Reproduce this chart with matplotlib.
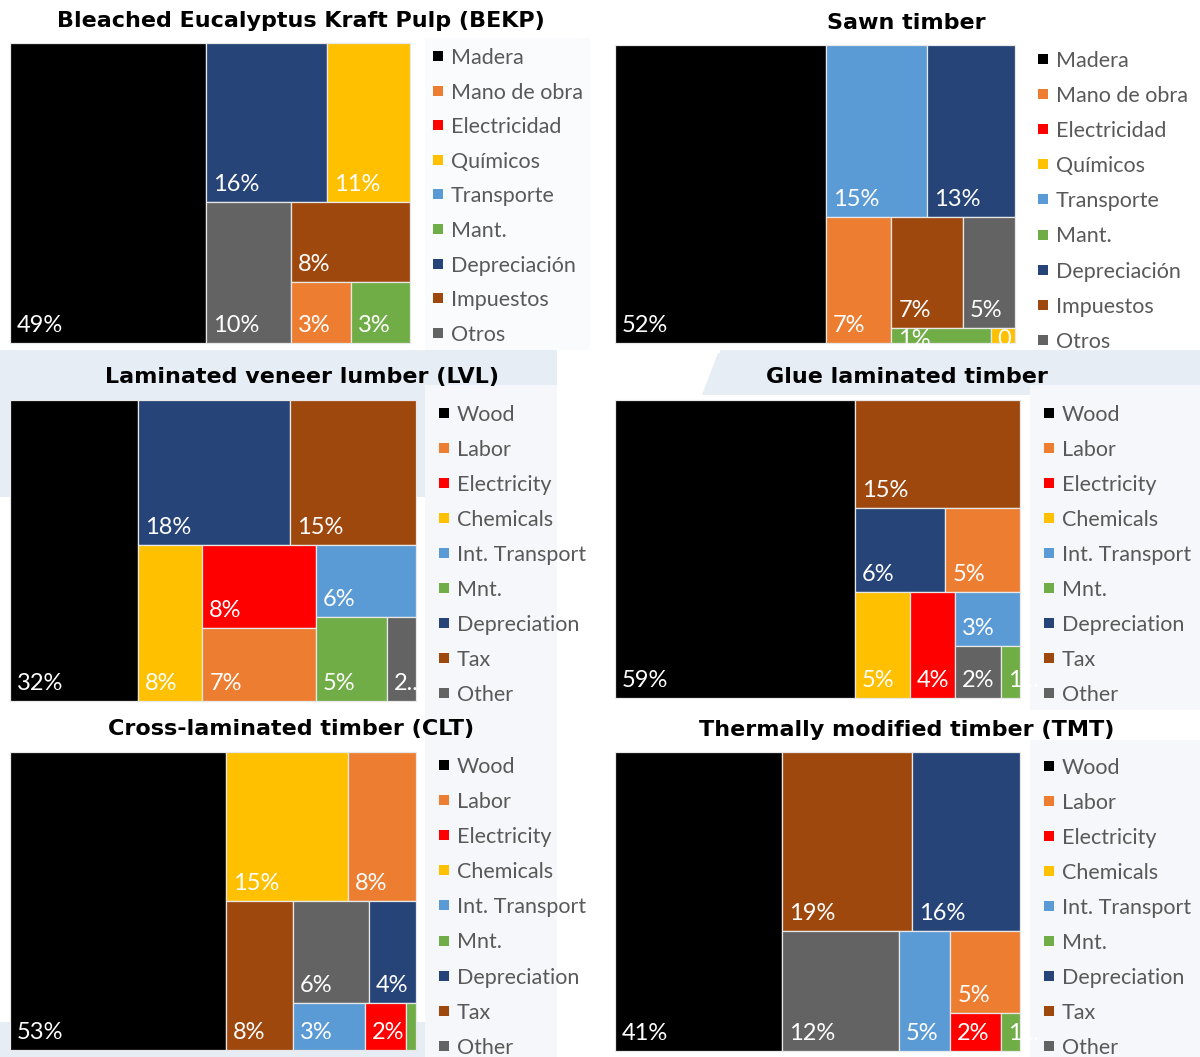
import matplotlib
matplotlib.use("Agg")
import matplotlib.pyplot as plt
from matplotlib.patches import Rectangle, Polygon

plt.rcParams['font.family'] = ['Lato', 'DejaVu Sans']

FIG_W, FIG_H = 1200, 1057

# cost categories, in legend order
cats_es = ["Madera", "Mano de obra", "Electricidad", "Químicos", "Transporte",
           "Mant.", "Depreciación", "Impuestos", "Otros"]
cats_en = ["Wood", "Labor", "Electricity", "Chemicals", "Int. Transport",
           "Mnt.", "Depreciation", "Tax", "Other"]
colors = ["#000000", "#ED7D31", "#FF0000", "#FFC000", "#5B9BD5",
          "#70AD47", "#264478", "#9E480E", "#636363"]

# cost shares (%) for each product, same order as the categories
bekp = [49, 3, 0, 11, 0, 3, 16, 8, 10]
sawn = [52.4, 6.9, 0, 0.31, 14.6, 1.26, 12.6, 6.6, 4.8]
lvl = [31.6, 6.8, 7.7, 8.2, 5.9, 4.9, 18.0, 15.0, 2.0]
glulam = [59.3, 5.2, 4.0, 4.8, 2.9, 0.8, 6.3, 14.8, 2.0]
clt = [53.2, 8.4, 1.6, 14.9, 2.8, 0.4, 4.0, 8.2, 6.4]
tmt = [41.2, 4.7, 1.6, 0, 5.1, 0.6, 16.0, 19.4, 11.6]

titles = ["Bleached Eucalyptus Kraft Pulp (BEKP)", "Sawn timber",
          "Laminated veneer lumber (LVL)", "Glue laminated timber",
          "Cross-laminated timber (CLT)", "Thermally modified timber (TMT)"]


def squarify(sizes, x, y, w, h, target=0.8):
    """Strip treemap: every strip keeps taking items while the worst
    deviation from the target width/height ratio does not grow."""
    rects = []
    i = 0
    while i < len(sizes):
        rest = sizes[i:]
        total = sum(rest)
        vertical = w >= h
        long_side, short_side = (w, h) if vertical else (h, w)

        def worst(k):
            s = sum(rest[:k])
            t = long_side * s / total
            out = 0
            for v in rest[:k]:
                l = short_side * v / s
                r = t / l if vertical else l / t
                out = max(out, r / target, target / r)
            return out

        k = 1
        while k < len(rest) and worst(k + 1) <= worst(k):
            k += 1
        s = sum(rest[:k])
        t = long_side * s / total
        pos = 0
        for v in rest[:k]:
            l = short_side * v / s
            if vertical:
                rects.append((x, y + pos, t, l))
            else:
                rects.append((x + pos, y, l, t))
            pos += l
        if vertical:
            x += t
            w -= t
        else:
            y += t
            h -= t
        i += k
    return rects


# title, values, names, treemap box (px), legend x / first y / step, title centre
panels = [
    (titles[0], bekp, cats_es, (10, 43, 400, 300), 438, 56, 34.6, (301, 21)),
    (titles[1], sawn, cats_es, (615, 45, 400, 298), 1043, 59, 35.1, (906, 23)),
    (titles[2], lvl, cats_en, (10, 400, 406, 301), 444, 413, 35.0, (302, 377)),
    (titles[3], glulam, cats_en, (615, 400, 405, 298), 1049, 413, 35.0, (907, 377)),
    (titles[4], clt, cats_en, (10, 752, 406, 298), 444, 765, 35.1, (291, 729)),
    (titles[5], tmt, cats_en, (615, 752, 405, 299), 1049, 766, 35.0, (907, 730)),
]

fig = plt.figure(figsize=(FIG_W / 100, FIG_H / 100), dpi=100)
fig.patch.set_facecolor("white")

# full-figure layer in pixel units for the backdrop, titles and legends
bg = fig.add_axes([0, 0, 1, 1], zorder=0)
bg.set_xlim(0, FIG_W)
bg.set_ylim(FIG_H, 0)
bg.axis("off")

band = "#e7edf4"
box = "#f5f7fa"
bg.add_patch(Polygon([(0, 350), (557, 350), (557, 497), (0, 497)], color=band, lw=0))
bg.add_patch(Polygon([(718, 353), (1200, 353), (1200, 395), (702, 395)], color=band, lw=0))
bg.add_patch(Polygon([(0, 1022), (557, 1022), (557, 1057), (0, 1057)], color=band, lw=0))
bg.add_patch(Polygon([(720, 350), (1200, 350), (1200, 360), (720, 360)], color=band, lw=0))
bg.add_patch(Rectangle((425, 38), 165, 312, color="#fafbfc", lw=0))
bg.add_patch(Rectangle((425, 385), 132, 330, color=box, lw=0))
bg.add_patch(Rectangle((1030, 385), 170, 325, color=box, lw=0))
bg.add_patch(Rectangle((425, 712), 132, 345, color=box, lw=0))
bg.add_patch(Rectangle((1030, 740), 170, 317, color=box, lw=0))

renderer = fig.canvas.get_renderer()

for title, vals, names, (bx, by, bw, bh), lx, ly, dy, (tx, ty) in panels:
    bg.text(tx, ty, title, ha="center", va="center", fontsize=16,
            fontweight="bold", family=["DejaVu Sans"], color="black")

    for k, name in enumerate(names):
        yy = ly + k * dy
        bg.add_patch(Rectangle((lx - 5, yy - 5), 10, 10, color=colors[k], lw=0))
        bg.text(lx + 13, yy, name, ha="left", va="center_baseline",
                fontsize=15.5, color="#595959")

    ax = fig.add_axes([bx / FIG_W, 1 - (by + bh) / FIG_H, bw / FIG_W, bh / FIG_H],
                      zorder=1)
    ax.set_xlim(0, bw)
    ax.set_ylim(bh, 0)
    ax.axis("off")

    order = sorted(range(len(vals)), key=lambda j: -vals[j])
    order = [j for j in order if vals[j] > 0]
    rects = squarify([vals[j] for j in order], 0, 0, bw, bh)

    for j, (rx, ry, rw, rh) in zip(order, rects):
        patch = Rectangle((rx, ry), rw, rh, facecolor=colors[j],
                          edgecolor="#e8e8e8", lw=0.9, clip_on=False)
        ax.add_patch(patch)
        if rw < 12:
            continue
        label = f"{vals[j]:.0f}%"
        if rh < 32:
            txt = ax.text(rx + 7, ry + 1, label, color="white", fontsize=17,
                          ha="left", va="top")
        else:
            txt = ax.text(rx + 7, ry + rh - 11, label, color="white", fontsize=17,
                          ha="left", va="baseline")
        if txt.get_window_extent(renderer).width > rw - 8:
            txt.set_text(label[0] + "...")
        txt.set_clip_path(patch)

fig.savefig("out.png", dpi=100, facecolor="white")
